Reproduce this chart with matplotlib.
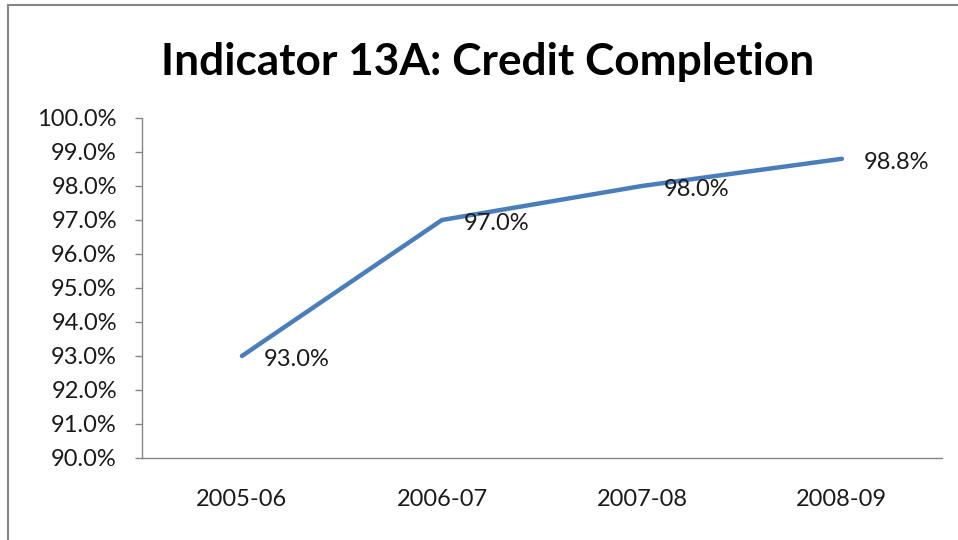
import matplotlib
matplotlib.use("Agg")
import matplotlib.pyplot as plt
from matplotlib.lines import Line2D
from matplotlib.ticker import FuncFormatter, MultipleLocator

# data
years = ["2005-06", "2006-07", "2007-08", "2008-09"]
completion = [0.930, 0.970, 0.980, 0.988]
point_labels = ["93.0%", "97.0%", "98.0%", "98.8%"]

LINE_BLUE = "#4A7EBB"
AXIS_GRAY = "#868686"
TEXT = "#1a1a1a"

plt.rcParams["font.family"] = ["Lato", "DejaVu Sans"]


def main():
    fig = plt.figure(figsize=(9.58, 5.40), dpi=100)
    ax = fig.add_axes([0.1482, 0.1519, 0.835, 0.6296])

    x = list(range(len(years)))
    ax.plot(x, completion, color=LINE_BLUE, lw=3.2, solid_capstyle="round",
            solid_joinstyle="round")
    for xi, yi, lab in zip(x, completion, point_labels):
        ax.annotate(lab, (xi, yi), xytext=(15.5, -2.5), textcoords="offset points",
                    ha="left", va="center", fontsize=17, color=TEXT)

    ax.set_xlim(-0.5, len(years) - 0.5)
    ax.set_ylim(0.90, 1.00)
    ax.yaxis.set_major_locator(MultipleLocator(0.01))
    ax.yaxis.set_major_formatter(FuncFormatter(lambda v, _: f"{v * 100:.1f}%"))
    ax.set_xticks(x)
    ax.set_xticklabels(years)

    for side in ("top", "right"):
        ax.spines[side].set_visible(False)
    for side in ("left", "bottom"):
        ax.spines[side].set_color(AXIS_GRAY)
        ax.spines[side].set_linewidth(1.0)
    ax.tick_params(axis="y", direction="out", length=5, width=1.0, color=AXIS_GRAY,
                   pad=13, labelsize=17, labelcolor=TEXT)
    ax.tick_params(axis="x", length=0, pad=22, labelsize=17, labelcolor=TEXT)

    fig.text(0.509, 0.886, "Indicator 13A: Credit Completion", ha="center",
             va="center", fontsize=31.8, fontweight="bold", color="black")

    # outer chart frame (only left and top edges show in the crop)
    fig.add_artist(Line2D([0.0084, 0.0084], [0.0, 0.991], transform=fig.transFigure,
                          color=AXIS_GRAY, lw=1.5))
    fig.add_artist(Line2D([0.0084, 1.0], [0.991, 0.991], transform=fig.transFigure,
                          color=AXIS_GRAY, lw=1.5))

    fig.savefig("out.png", dpi=100)
    plt.close(fig)


if __name__ == "__main__":
    main()
